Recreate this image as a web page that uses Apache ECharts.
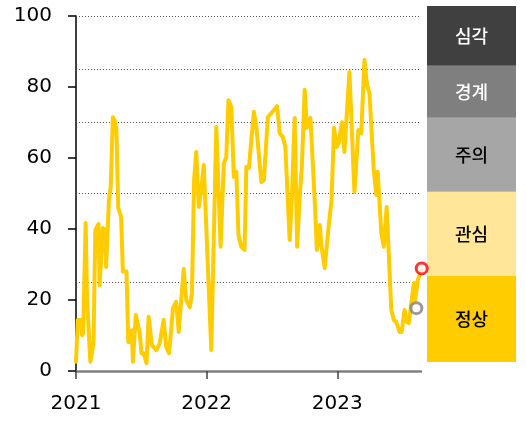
<!DOCTYPE html>
<html><head><meta charset="utf-8">
<script src="https://cdn.jsdelivr.net/npm/echarts@6/dist/echarts.min.js"></script>
<style>html,body{margin:0;padding:0;background:#fff}#c{width:526px;height:423px}</style>
</head><body><div id="c"></div>
<script>
const dates = [
'2021-01-01','2021-01-06','2021-01-14','2021-01-18','2021-01-21','2021-01-28','2021-02-01','2021-02-10','2021-02-16','2021-02-19',
'2021-02-24','2021-03-05','2021-03-08','2021-03-13','2021-03-17','2021-03-23','2021-03-26','2021-03-30','2021-04-03','2021-04-08',
'2021-04-14','2021-04-19','2021-04-24','2021-04-29','2021-05-07','2021-05-12','2021-05-22','2021-05-27','2021-06-03','2021-06-06',
'2021-06-09','2021-06-14','2021-06-17','2021-06-20','2021-06-28','2021-07-03','2021-07-09','2021-07-17','2021-07-23','2021-08-01',
'2021-08-14','2021-08-23','2021-09-03','2021-09-10','2021-09-18','2021-09-29','2021-10-08','2021-10-15','2021-10-22','2021-10-29',
'2021-11-05','2021-11-15','2021-11-21','2021-11-27','2021-12-03','2021-12-10','2021-12-17','2021-12-24',
'2022-01-14','2022-01-28','2022-02-09','2022-02-18','2022-02-25','2022-03-03','2022-03-11','2022-03-18','2022-03-25','2022-03-31',
'2022-04-08','2022-04-17','2022-04-22','2022-04-29','2022-05-13','2022-05-20','2022-06-03','2022-06-10','2022-06-21','2022-07-01',
'2022-07-17','2022-07-24','2022-08-02','2022-08-09','2022-08-21','2022-08-27','2022-09-04','2022-09-11','2022-09-18','2022-09-24',
'2022-10-02','2022-10-08','2022-10-18','2022-10-30','2022-11-05','2022-11-13','2022-11-18','2022-11-27','2022-12-06','2022-12-16',
'2022-12-23','2022-12-30',
'2023-01-05','2023-01-14','2023-01-21','2023-02-04','2023-02-18','2023-03-01','2023-03-09','2023-03-18','2023-03-25','2023-04-01',
'2023-04-13','2023-04-20','2023-04-24','2023-05-04','2023-05-11','2023-05-19','2023-06-01','2023-06-08','2023-06-15','2023-06-24',
'2023-06-30','2023-07-08','2023-07-14','2023-07-20','2023-08-03','2023-08-07','2023-08-14','2023-08-25'
];
const values = [
2.6,14.4,14.4,10.1,10.7,41.7,20,2.6,6,8.7,
39.7,41.4,24.2,24.2,40.3,39.7,29.3,29.3,48.2,51.8,
71.5,70.6,67.9,45.9,43.4,28,28,8.2,8.2,11.5,
2.6,2.6,15.8,15.8,10.7,5,5,2.2,15.3,7.3,
5.9,7.9,14.4,6.8,5,17.7,19.5,11,20,28.7,
20,18,22,53.8,61.7,46.2,51,58,
5.9,68.7,35,58.5,60.3,76.3,74.4,54.7,56.1,38.3,
35,34.1,57.5,57.2,73,68.7,53.2,53.8,71.5,72.7,
74.6,67,65.9,63.1,36.9,48.2,71.3,35,49,57.5,
79.2,68.5,71.3,48.2,34.1,41.1,35,29,38.9,48.2,
68.5,63.1,
64.2,70.1,61.7,84.2,50.4,67.9,67,87.6,80.6,78.3,
56.6,49.6,56.1,38.9,35,46.2,17.2,14.4,13.8,11,
11,17.2,13.8,13.5,24.8,20,25.6,28.9
];
const markerDates = ['2023-08-10','2023-08-25'];
const markerValues = [17.7, 28.9];
const yearTicks = ['2021-01-01','2022-01-01','2023-01-01'];
const axisStart = '2021-01-01';
const axisEnd = '2023-08-23';
const levelLines = [25, 50, 70, 85, 100];
const bandNames = ['정상','관심','주의','경계','심각'];
const bandSizes = [24.2, 23.6, 20.8, 14.6, 16.8];

const bandColors = ['#FFCC00','#FFE699','#A6A6A6','#7F7F7F','#404040'];
const bandText = ['#000','#000','#000','#fff','#fff'];
const markerColors = ['#7F7F7F','#FF0000'];

const toTs = s => { const p = s.split('-'); return Date.UTC(+p[0], +p[1]-1, +p[2]); };
const yearVals = yearTicks.map(toTs);
const fontNum = 'DejaVu Sans';

const series = [
  {
    type: 'line', xAxisIndex: 0, yAxisIndex: 0, data: [], z: 1, silent: true,
    markLine: {
      silent: true, symbol: ['none','none'], label: {show: false},
      lineStyle: {type: [1, 2], color: '#555', width: 1},
      emphasis: {disabled: true},
      data: levelLines.map(v => ({yAxis: v}))
    }
  },
  {
    type: 'line', xAxisIndex: 0, yAxisIndex: 0, z: 5,
    data: dates.map((d, i) => [toTs(d), values[i]]),
    symbol: 'none', showSymbol: false, clip: false,
    lineStyle: {color: '#FFCC00', width: 4, join: 'round', cap: 'round'}
  },
  {
    type: 'scatter', xAxisIndex: 0, yAxisIndex: 0, z: 10, clip: false,
    symbol: 'circle', symbolSize: 11,
    data: markerDates.map((d, i) => ({
      value: [toTs(d), markerValues[i]],
      itemStyle: {color: '#fff', borderColor: markerColors[i], borderWidth: 3}
    }))
  }
];
bandNames.forEach((n, i) => {
  series.push({
    type: 'bar', name: n, xAxisIndex: 1, yAxisIndex: 1, stack: 'band',
    barWidth: '100%', data: [bandSizes[i]],
    itemStyle: {color: bandColors[i]},
    label: {show: true, position: 'inside', formatter: n, color: bandText[i],
      fontSize: 18, fontWeight: 500, fontFamily: 'Noto Sans CJK KR'}
  });
});

const chart = echarts.init(document.getElementById('c'));
chart.setOption({
  animation: false,
  backgroundColor: '#fff',
  grid: [
    {left: 76, top: 16, width: 345, height: 355},
    {left: 427, top: 6, width: 89, height: 356}
  ],
  xAxis: [
    {
      type: 'value', gridIndex: 0, min: toTs(axisStart), max: toTs(axisEnd),
      axisLine: {show: true, lineStyle: {color: '#7F7F7F', width: 2.5}},
      axisTick: {show: true, length: 8, lineStyle: {color: '#404040', width: 1.5}, customValues: yearVals},
      axisLabel: {customValues: yearVals, formatter: v => String(new Date(v).getUTCFullYear()),
        fontSize: 20, color: '#000', margin: 23, fontFamily: fontNum},
      splitLine: {show: false}
    },
    {type: 'category', gridIndex: 1, data: ['b'], show: false}
  ],
  yAxis: [
    {
      type: 'value', gridIndex: 0, min: 0, max: 100, interval: 20,
      axisLine: {show: true, lineStyle: {color: '#000', width: 1.5}},
      axisTick: {show: true, length: 8, lineStyle: {color: '#000', width: 1.5}},
      axisLabel: {fontSize: 20, color: '#000', margin: 24, fontFamily: fontNum},
      splitLine: {show: false}
    },
    {type: 'value', gridIndex: 1, min: 0, max: 100, show: false}
  ],
  series: series
});
</script></body></html>
